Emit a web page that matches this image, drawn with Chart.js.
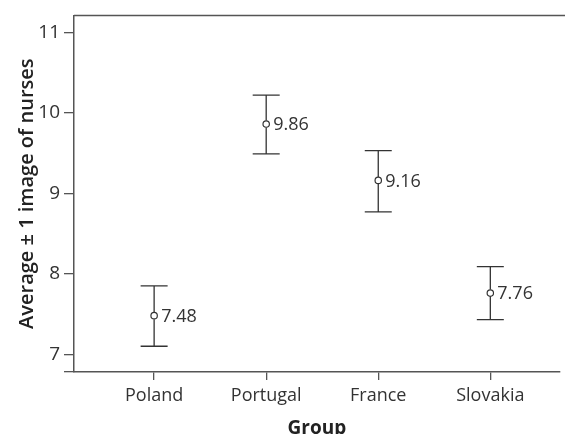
<!DOCTYPE html>
<html>
<head>
<meta charset="utf-8">
<script src="https://cdn.jsdelivr.net/npm/chart.js@4"></script>
<style>
  html, body {margin: 0; padding: 0; overflow: hidden; background: #fff;}
</style>
</head>
<body>
<canvas id="chart" width="565" height="450"></canvas>
<script>
const groups = ['Poland', 'Portugal', 'France', 'Slovakia'];
const means = [7.48, 9.86, 9.16, 7.76];
const lower = [7.10, 9.49, 8.77, 7.43];
const upper = [7.85, 10.22, 9.53, 8.09];
const yTicks = [7, 8, 9, 10, 11];

const INK = '#333';
const LINE = '#555';
const FONT = '"Open Sans", sans-serif';

// error bars, value labels and the top frame line
const errorBars = {
  id: 'errorBars',
  afterDatasetsDraw(chart) {
    const {ctx, chartArea, scales: {x, y}} = chart;
    ctx.save();
    ctx.strokeStyle = LINE;
    ctx.lineWidth = 1.5;
    ctx.beginPath();
    ctx.moveTo(chartArea.left, chartArea.top);
    ctx.lineTo(chart.width, chartArea.top);
    ctx.stroke();

    ctx.strokeStyle = INK;
    ctx.lineWidth = 1.3;
    groups.forEach((g, i) => {
      const px = x.getPixelForValue(i);
      const top = y.getPixelForValue(upper[i]);
      const bot = y.getPixelForValue(lower[i]);
      const m = y.getPixelForValue(means[i]);
      ctx.beginPath();
      ctx.moveTo(px, top); ctx.lineTo(px, m - 3.5);
      ctx.moveTo(px, m + 3.5); ctx.lineTo(px, bot);
      ctx.moveTo(px - 13.5, top); ctx.lineTo(px + 13.5, top);
      ctx.moveTo(px - 13.5, bot); ctx.lineTo(px + 13.5, bot);
      ctx.stroke();
    });

    ctx.fillStyle = INK;
    ctx.font = '18px ' + FONT;
    ctx.textBaseline = 'middle';
    groups.forEach((g, i) => {
      ctx.fillText(means[i].toFixed(2), x.getPixelForValue(i) + 7, y.getPixelForValue(means[i]) + 1);
    });
    ctx.restore();
  }
};

new Chart(document.getElementById('chart'), {
  type: 'scatter',
  data: {
    datasets: [{
      data: means.map((v, i) => ({x: i, y: v})),
      pointStyle: 'circle',
      pointRadius: 3.2,
      pointBorderWidth: 1.2,
      pointBackgroundColor: '#fff',
      pointBorderColor: INK
    }]
  },
  options: {
    responsive: false,
    animation: false,
    layout: {padding: {top: 13, right: 0, bottom: 0, left: 0}},
    plugins: {legend: {display: false}, tooltip: {enabled: false}},
    scales: {
      x: {
        type: 'linear',
        min: -0.715,
        max: 3.62,
        afterBuildTicks: s => { s.ticks = groups.map((g, i) => ({value: i})); },
        afterFit: s => { s.height = 78; },
        grid: {drawOnChartArea: false, tickLength: 8, color: LINE, lineWidth: 1.3},
        border: {display: true, color: LINE, width: 1.5},
        ticks: {
          padding: 5,
          color: INK,
          font: {family: FONT, size: 18},
          maxRotation: 0,
          callback: v => groups[v]
        },
        title: {
          display: true,
          text: 'Group',
          color: '#222',
          font: {family: FONT, size: 19, weight: 'bold'},
          padding: {top: 0, bottom: 10}
        }
      },
      y: {
        min: 6.78,
        max: 11.21,
        afterBuildTicks: s => { s.ticks = [{value: 6.78}].concat(yTicks.map(v => ({value: v}))); },
        afterFit: s => { s.width = 74; },
        grid: {drawOnChartArea: false, tickLength: 10, color: LINE, lineWidth: 1.3},
        border: {display: true, color: LINE, width: 1.5},
        ticks: {
          padding: 4,
          color: INK,
          font: {family: FONT, size: 19},
          callback: v => yTicks.includes(v) ? String(v) : ''
        },
        title: {
          display: true,
          text: 'Average ± 1 image of nurses',
          color: '#222',
          font: {family: FONT, size: 20, weight: '600'},
          padding: {top: 15, bottom: 0}
        }
      }
    }
  },
  plugins: [errorBars]
});
</script>
</body>
</html>
